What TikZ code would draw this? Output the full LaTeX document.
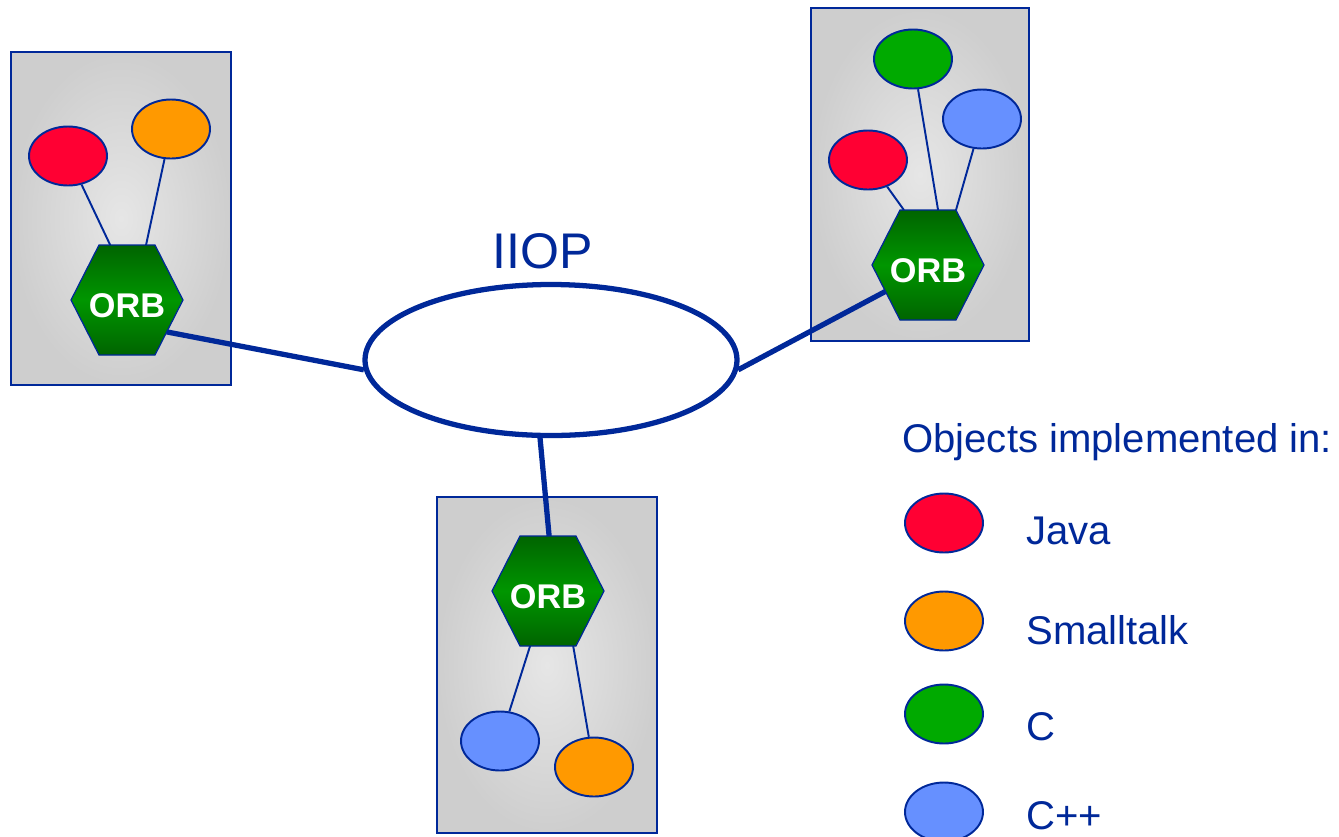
\documentclass[tikz,border=0pt]{standalone}
\usepackage{fontspec}
\setmainfont{Liberation Sans}
\usetikzlibrary{
		calc,
		shapes.geometric
	}
\definecolor{iiopblue}{RGB}{0,40,153}
\definecolor{javared}{RGB}{255,0,51}
\definecolor{storange}{RGB}{255,153,0}
\definecolor{cgreen}{RGB}{0,170,0}
\definecolor{cppblue}{RGB}{102,144,255}
\definecolor{orbdark}{RGB}{0,100,0}
\definecolor{orbmid}{RGB}{0,150,0}
\definecolor{boxin}{RGB}{230,230,230}
\definecolor{boxout}{RGB}{206,206,206}
\tikzset{
		obj/.style={ellipse, draw=iiopblue, line width=1.1pt, minimum width=15.6mm, minimum height=11.8mm, inner sep=0pt},
		orb/.style={text=white, font=\bfseries\fontsize{19.5}{21}\selectfont, inner sep=0pt},
		hexfill/.style={draw=iiopblue, line width=0.7pt, top color=orbdark, bottom color=orbdark, middle color=orbmid},
		hostbox/.style={draw=iiopblue, line width=0.8pt, inner color=boxin, outer color=boxout},
		wire/.style={iiopblue, line width=1.1pt},
		bus/.style={iiopblue, line width=3pt},
		lbl/.style={text=iiopblue, font=\fontsize{22.8}{27}\selectfont, anchor=base west, inner sep=0pt}
	}

\begin{document}
\begin{tikzpicture}[x=0.2mm, y=-0.2mm]
		\useasboundingbox (0,0) rectangle (1339,836);
		% Host boxes
		\draw[hostbox] (11,52) rectangle (231,385);
		\draw[hostbox] (811,8) rectangle (1029,341);
		\draw[hostbox] (437,497) rectangle (657,833);
		% ORB hexagons
		\foreach \n/\cx/\cy in {L/127/300, R/928/265, B/548/591} {
			\draw[hexfill] (\cx,\cy) ++(-56,0) coordinate (h\n-w) -- ++(28,-55) coordinate (h\n-nw) -- ++(56,0) coordinate (h\n-ne)
				-- ++(28,55) coordinate (h\n-e) -- ++(-28,55) coordinate (h\n-se) -- ++(-56,0) coordinate (h\n-sw) -- cycle;
			\node[orb] (orb\n) at (\cx,\cy+6) {ORB};
		}
		% Objects
		\node[obj, fill=javared] (lRed) at (68,156) {};		\node[obj, fill=storange] (lOrange) at (171,129) {};
		\node[obj, fill=cgreen] (rGreen) at (913,59) {};	\node[obj, fill=cppblue] (rBlue) at (982,119) {};
		\node[obj, fill=javared] (rRed) at (868,160) {};
		\node[obj, fill=cppblue] (bBlue) at (500,741) {};	\node[obj, fill=storange] (bOrange) at (594,767) {};
		% Wires to the ORBs
		\draw[wire] (lRed) -- ($(hL-nw)!0.2!(hL-ne)$);		\draw[wire] (lOrange) -- ($(hL-nw)!0.84!(hL-ne)$);
		\draw[wire] (rRed) -- ($(hR-nw)!0.07!(hR-ne)$);		\draw[wire] (rGreen) -- ($(hR-nw)!0.68!(hR-ne)$);
		\draw[wire] (rBlue) -- (hR-ne);
		\draw[wire] (bBlue) -- ($(hB-sw)!0.18!(hB-se)$);	\draw[wire] (bOrange) -- ($(hB-sw)!0.95!(hB-se)$);
		% IIOP ring
		\node[ellipse, draw=iiopblue, line width=3pt, fill=white, minimum width=74.4mm, minimum height=30.2mm, inner sep=0pt] (ring) at (551,360) {};
		\node[text=iiopblue, font=\fontsize{28.5}{32}\selectfont, anchor=base west, inner sep=0pt] (iiop) at (492,268) {IIOP};
		\draw[bus] ($(hL-e)!0.58!(hL-se)$) -- (ring.183);
		\draw[bus] ($(hR-w)!0.48!(hR-sw)$) -- (ring.-3);
		\draw[bus] (ring.-98) -- ($(hB-nw)!0.52!(hB-ne)$);
		% Legend
		\node[lbl] (legTitle) at (902,452) {Objects implemented in:};
		\foreach \c/\t/\y/\b [count=\i] in {javared/Java/523/544, storange/Smalltalk/621/644, cgreen/C/714/740, cppblue/C++/812/829} {
			\node[obj, fill=\c] (leg\i) at (944,\y) {};
			\node[lbl] (legText\i) at (1026,\b) {\t};
		}
	\end{tikzpicture}
\end{document}
